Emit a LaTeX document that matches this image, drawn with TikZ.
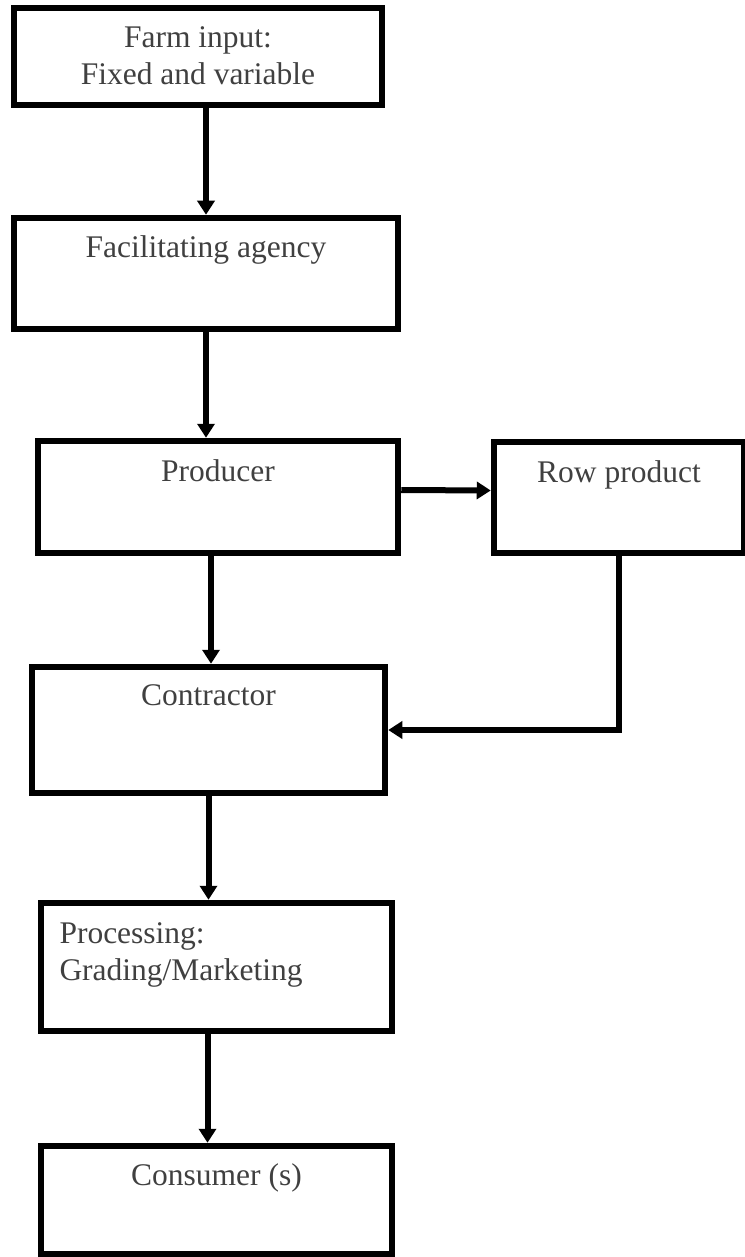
\documentclass[tikz,border=0pt]{standalone}
\usepackage{fontspec}
\setmainfont{Liberation Serif}
\usetikzlibrary{arrows.meta}
\definecolor{labelgray}{RGB}{64,64,64}
\newcommand{\labelfont}{\fontsize{31.5}{37}\selectfont}
\newcommand{\boxtext}[3]{\begin{minipage}[t][#2][t]{#1}\labelfont #3\end{minipage}}
\tikzstyle{stage} = [draw=black, line width=6.5pt, inner sep=0pt, text=labelgray]
\tikzstyle{flow} = [line width=6pt, -{Triangle[length=14pt,width=17pt]}]

\begin{document}
\begin{tikzpicture}[x=1pt, y=-1pt]
	\useasboundingbox (0,0) rectangle (744,1257);
	\node[stage] (farm) at (198,56.5) {\boxtext{368pt}{97pt}{\centering\rule{0pt}{40pt}Farm input:\\Fixed and variable}};
	\node[stage] (facil) at (206,273.5) {\boxtext{384pt}{111pt}{\centering\rule{0pt}{40pt}Facilitating agency}};
	\node[stage] (prod) at (218,497) {\boxtext{360pt}{112pt}{\centering\rule{0pt}{40pt}Producer}};
	\node[stage] (row) at (619,497.5) {\boxtext{250pt}{111pt}{\centering\rule{0pt}{40pt}Row product}};
	\node[stage] (contr) at (208.5,730) {\boxtext{353pt}{126pt}{\centering\rule{0pt}{38pt}Contractor}};
	\node[stage] (proc) at (216.5,967) {\boxtext{351pt}{128pt}{\raggedright\leftskip=18.5pt\rule{0pt}{40pt}Processing:\\Grading/Marketing}};
	\node[stage] (cons) at (216.5,1200) {\boxtext{351pt}{108pt}{\centering\rule{0pt}{39pt}Consumer (s)}};
	% connectors
	\draw[flow] (facil.north |- farm.south) -- (facil.north);
	\draw[flow] (facil.south) -- (facil.south |- prod.north);
	\draw[flow] ([yshift=7pt]prod.east) -- ([yshift=7pt]row.west);
	\draw[flow] ([xshift=-7pt]prod.south) -- ([xshift=-7pt]prod.south |- contr.north);
	\draw[flow] (row.south) |- (contr.east);
	\draw[flow] (contr.south) -- (contr.south |- proc.north);
	\draw[flow] ([xshift=-9pt]proc.south) -- ([xshift=-9pt]proc.south |- cons.north);
\end{tikzpicture}
\end{document}
